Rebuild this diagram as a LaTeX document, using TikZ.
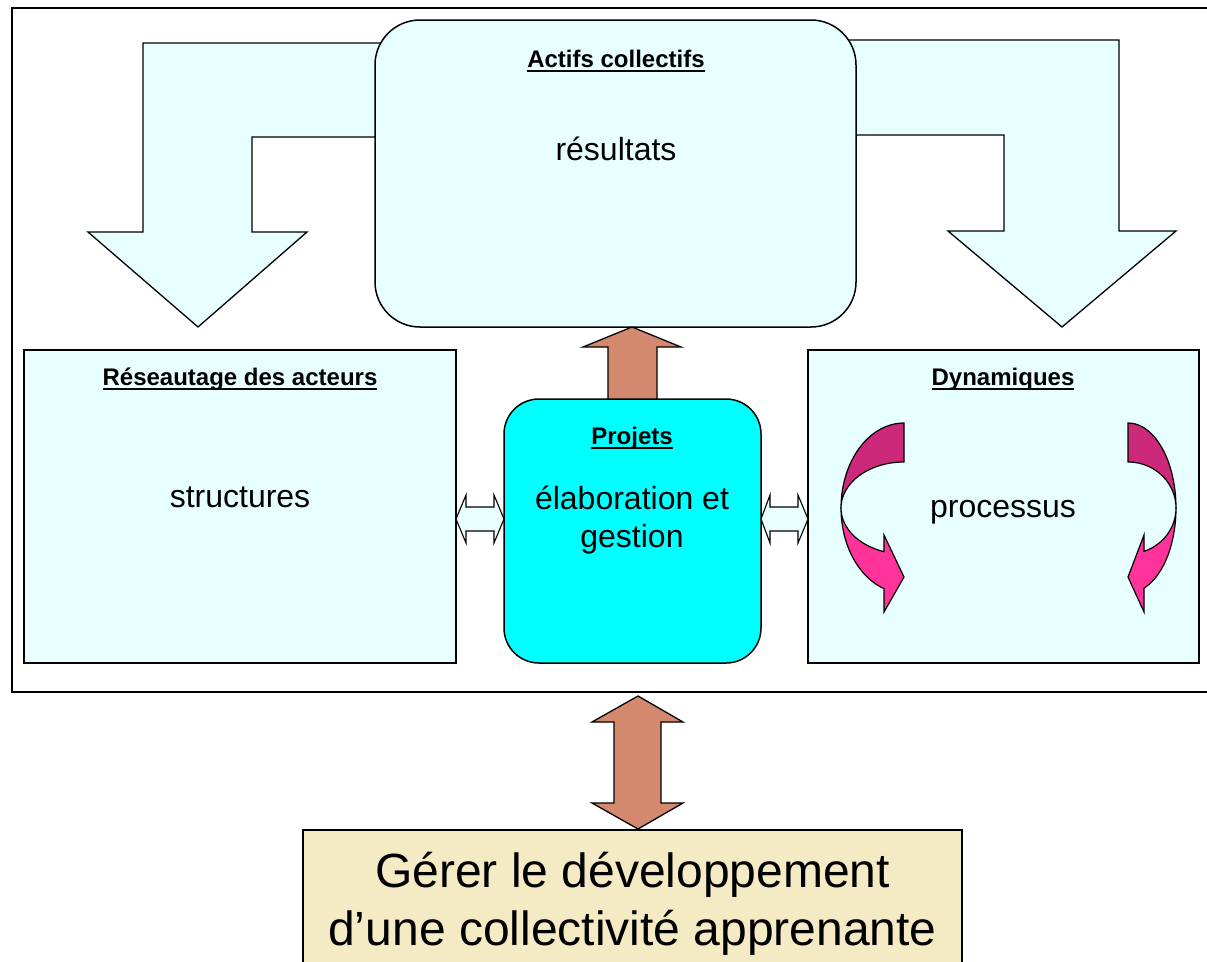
\documentclass[tikz,border=0pt]{standalone}
\usepackage{fontspec}
\setmainfont{Liberation Sans}
\definecolor{lcyan}{RGB}{232,255,255}
\definecolor{pcyan}{RGB}{0,255,255}
\definecolor{salmon}{RGB}{212,136,110}
\definecolor{beige}{RGB}{244,234,196}
\definecolor{darkmag}{RGB}{204,41,122}
\definecolor{brightpink}{RGB}{255,51,153}
\newcommand\myul[1]{\setbox0\hbox{#1}\rlap{\rule[-4.5pt]{\wd0}{2pt}}\box0}
\begin{document}
\begin{tikzpicture}[x=1pt,y=-1pt,
  outl/.style={draw=black,line width=1.5pt,line join=miter},
  boxs/.style={outl,inner sep=0pt,fill=lcyan},
  head/.style={font=\fontsize{24}{28}\selectfont\bfseries,anchor=base,inner sep=0pt},
  body/.style={font=\fontsize{32}{38}\selectfont,anchor=base,inner sep=0pt},
  big/.style={font=\fontsize{48}{58}\selectfont,anchor=base,inner sep=0pt},
  blockarrow/.style={outl,line width=1.3pt},
]
\useasboundingbox (0,0) rectangle (1207,961);
\fill[white] (0,0) rectangle (1207,961);

% outer frame
\draw[line width=1.8pt] (12,8) rectangle (1230,692);

% L-shaped block arrows
\filldraw[blockarrow,fill=lcyan] (420,43) -- (143,43) -- (143,232) -- (88,232) -- (198,327)
  -- (307,232) -- (252,232) -- (252,137) -- (420,137);
\filldraw[blockarrow,fill=lcyan] (820,40) -- (1119,40) -- (1119,231) -- (1176,231) -- (1062,327)
  -- (948,231) -- (1004,231) -- (1004,135) -- (820,135);

% top box
\node[boxs,rounded corners=45pt,minimum width=481pt,minimum height=307pt] (actifs) at (615.5,173.5) {};
\node[head] (actifsT) at (616,67) {\myul{Actifs collectifs}};
\node[body] (resultats) at (616,160) {résultats};

% up arrow Projets -> Actifs
\filldraw[blockarrow,fill=salmon] (608,410) -- (608,347) -- (583,347) -- (632,327) -- (681,347)
  -- (657,347) -- (657,410);

% left and right boxes
\node[boxs,minimum width=432pt,minimum height=313pt] (reseau) at (240,506.5) {};
\node[head] (reseauT) at (240,385) {\myul{Réseautage des acteurs}};
\node[body] (structures) at (240,507) {structures};

\node[boxs,minimum width=391pt,minimum height=313pt] (dyn) at (1003.5,506.5) {};
\node[head] (dynT) at (1003,385) {\myul{Dynamiques}};
\node[body] (processus) at (1003,517) {processus};

% projets box
\node[outl,inner sep=0pt,fill=pcyan,rounded corners=35pt,minimum width=257pt,minimum height=264pt] (projets) at (632.5,531) {};
\node[head] (projetsT) at (632,444) {\myul{Projets}};
\node[body,align=center,anchor=base] (elab) at (632,509) {élaboration et};
\node[body] (gestion) at (632,547) {gestion};

% small horizontal double arrows
\filldraw[blockarrow,line width=1.1pt,fill=lcyan] (456,519) -- (466,495) -- (466,507) -- (494,507) -- (494,495)
  -- (504,519) -- (494,543) -- (494,531) -- (466,531) -- (466,543) -- cycle;
\filldraw[blockarrow,line width=1.1pt,fill=lcyan] (761,519) -- (770,495) -- (770,507) -- (798,507) -- (798,495)
  -- (808,519) -- (798,543) -- (798,531) -- (770,531) -- (770,543) -- cycle;

% curved arrows in Dynamiques
\filldraw[outl,line width=1.2pt,fill=darkmag]
  plot[domain=-90:-180,samples=40,variable=\t] ({904+63*cos(\t)},{508+85*sin(\t)})
  -- plot[domain=-180:-90,samples=40,variable=\t] ({904+63*cos(\t)},{508+46*sin(\t)}) -- cycle;
\filldraw[outl,line width=1.2pt,fill=brightpink]
  plot[domain=180:108.5,samples=40,variable=\t] ({904+63*cos(\t)},{508+85*sin(\t)})
  -- (884,612) -- (904,577) -- (884,535)
  -- plot[domain=108.5:180,samples=40,variable=\t] ({904+63*cos(\t)},{508+46*sin(\t)}) -- cycle;
\filldraw[outl,line width=1.2pt,fill=darkmag]
  plot[domain=-90:0,samples=40,variable=\t] ({1128+48*cos(\t)},{508+85*sin(\t)})
  -- plot[domain=0:-90,samples=40,variable=\t] ({1128+48*cos(\t)},{508+46*sin(\t)}) -- cycle;
\filldraw[outl,line width=1.2pt,fill=brightpink]
  plot[domain=0:70.5,samples=40,variable=\t] ({1128+48*cos(\t)},{508+85*sin(\t)})
  -- (1144,612) -- (1128,577) -- (1144,535)
  -- plot[domain=70.5:0,samples=40,variable=\t] ({1128+48*cos(\t)},{508+46*sin(\t)}) -- cycle;

% bottom box
\node[outl,inner sep=0pt,fill=beige,minimum width=659pt,minimum height=170pt] (gerer) at (632.5,915) {};
\node[big] (gerer1) at (632.5,887) {Gérer le développement};
\node[big] (gerer2) at (632.5,945) {d’une collectivité apprenante};

% vertical double arrow
\filldraw[blockarrow,fill=salmon] (638,696) -- (683,722) -- (661,722) -- (661,803) -- (683,803)
  -- (638,829) -- (592,803) -- (614,803) -- (614,722) -- (592,722) -- cycle;
\end{tikzpicture}
\end{document}
